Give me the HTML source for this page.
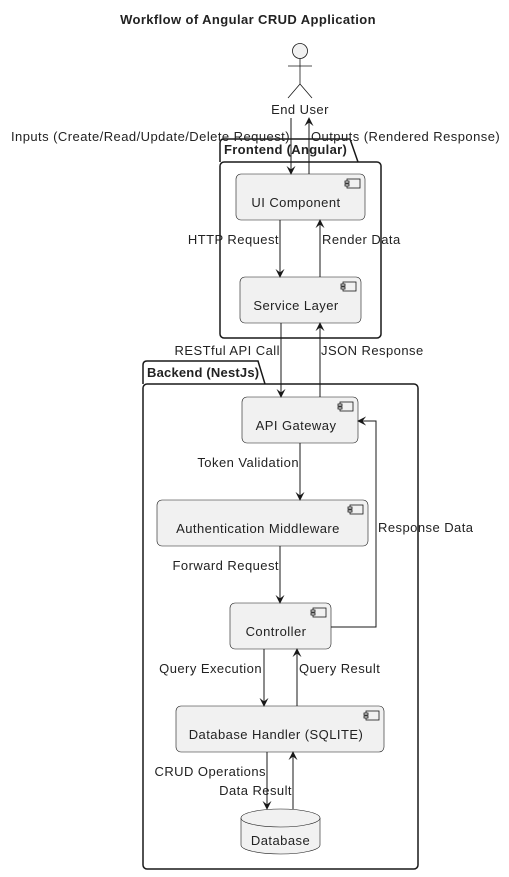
<!DOCTYPE html>
<html><head><meta charset="utf-8"><style>
html,body{margin:0;padding:0;background:#fff;}
svg{display:block;font-family:"Liberation Sans",sans-serif;}
text{font-size:13px;fill:#222;letter-spacing:0.45px;}
</style></head><body>
<svg width="509" height="877" viewBox="0 0 509 877" xmlns="http://www.w3.org/2000/svg">
<defs>
<marker id="a" viewBox="0 0 10 10" refX="9" refY="5" markerWidth="9" markerHeight="9" orient="auto-start-reverse" markerUnits="userSpaceOnUse">
<path d="M0,0 L10,5 L0,10 L4,5 Z" fill="#181818"/></marker>
<g id="ic"><rect x="0" y="0" width="13" height="9" fill="#f1f1f1" stroke="#181818" stroke-width="0.8"/><rect x="-2" y="2" width="4" height="2" fill="#f1f1f1" stroke="#181818" stroke-width="0.8"/><rect x="-2" y="5" width="4" height="2" fill="#f1f1f1" stroke="#181818" stroke-width="0.8"/></g>
</defs>
<text x="248" y="24" text-anchor="middle" font-weight="bold" style="letter-spacing:0.4px">Workflow of Angular CRUD Application</text>
<g stroke="#181818" stroke-width="0.8" fill="none">
<circle cx="300" cy="51" r="7.5" fill="#f1f1f1"/>
<line x1="300" y1="58.5" x2="300" y2="84"/>
<line x1="288" y1="66" x2="312" y2="66"/>
<line x1="300" y1="84" x2="288" y2="98"/>
<line x1="300" y1="84" x2="312" y2="98"/>
</g>
<text x="300" y="114" text-anchor="middle">End User</text>
<g fill="none" stroke="#181818" stroke-width="1.5">
<path d="M220,162 L220,143 Q220,139 224,139 L350,139 L358,162"/>
<rect x="220" y="162" width="161" height="176" rx="4"/>
<path d="M143,384 L143,365 Q143,361 147,361 L258,361 L265,384"/>
<rect x="143" y="384" width="275" height="485" rx="4"/>
</g>
<text x="224" y="154" font-weight="bold" style="letter-spacing:0.3px">Frontend (Angular)</text>
<text x="147" y="377" font-weight="bold" style="letter-spacing:0.2px">Backend (NestJs)</text>
<g fill="#f1f1f1" stroke="#181818" stroke-width="0.6">
<rect x="236" y="174" width="129" height="46" rx="5"/>
<rect x="240" y="277" width="121" height="46" rx="5"/>
<rect x="242" y="397" width="116" height="46" rx="5"/>
<rect x="157" y="500" width="211" height="46" rx="5"/>
<rect x="230" y="603" width="101" height="46" rx="5"/>
<rect x="176" y="706" width="208" height="46" rx="5"/>
<path d="M241,818 L241,845 A39.5,9 0 0 0 320,845 L320,818"/>
<ellipse cx="280.5" cy="818" rx="39.5" ry="9"/>
</g>
<use href="#ic" x="347" y="179"/>
<use href="#ic" x="343" y="282"/>
<use href="#ic" x="340" y="402"/>
<use href="#ic" x="350" y="505"/>
<use href="#ic" x="313" y="608"/>
<use href="#ic" x="366" y="711"/>
<g text-anchor="middle">
<text x="296" y="207">UI Component</text>
<text x="296" y="310">Service Layer</text>
<text x="296" y="430">API Gateway</text>
<text x="258" y="533">Authentication Middleware</text>
<text x="276" y="636">Controller</text>
<text x="276" y="739">Database Handler (SQLITE)</text>
<text x="280.5" y="845">Database</text>
</g>
<g stroke="#181818" stroke-width="1" fill="none">
<line x1="291" y1="118" x2="291" y2="174" marker-end="url(#a)"/>
<line x1="309" y1="174" x2="309" y2="118" marker-end="url(#a)"/>
<line x1="280" y1="220" x2="280" y2="277" marker-end="url(#a)"/>
<line x1="320" y1="277" x2="320" y2="220" marker-end="url(#a)"/>
<line x1="281" y1="323" x2="281" y2="397" marker-end="url(#a)"/>
<line x1="320" y1="397" x2="320" y2="323" marker-end="url(#a)"/>
<line x1="300" y1="443" x2="300" y2="500" marker-end="url(#a)"/>
<line x1="280" y1="546" x2="280" y2="603" marker-end="url(#a)"/>
<path d="M331,627 L376,627 L376,421 L358,421" marker-end="url(#a)"/>
<line x1="264" y1="649" x2="264" y2="706" marker-end="url(#a)"/>
<line x1="297" y1="706" x2="297" y2="649" marker-end="url(#a)"/>
<line x1="267" y1="752" x2="267" y2="809" marker-end="url(#a)"/>
<line x1="293" y1="809" x2="293" y2="752" marker-end="url(#a)"/>
</g>
<g text-anchor="end">
<text x="290" y="141">Inputs (Create/Read/Update/Delete Request)</text>
<text x="279" y="244">HTTP Request</text>
<text x="280" y="355">RESTful API Call</text>
<text x="299" y="467">Token Validation</text>
<text x="279" y="570">Forward Request</text>
<text x="262" y="673">Query Execution</text>
<text x="266" y="776">CRUD Operations</text>
<text x="292" y="795">Data Result</text>
</g>
<text x="311" y="141">Outputs (Rendered Response)</text>
<text x="322" y="244">Render Data</text>
<text x="321" y="355">JSON Response</text>
<text x="378" y="532">Response Data</text>
<text x="299" y="673">Query Result</text>
</svg>
</body></html>
